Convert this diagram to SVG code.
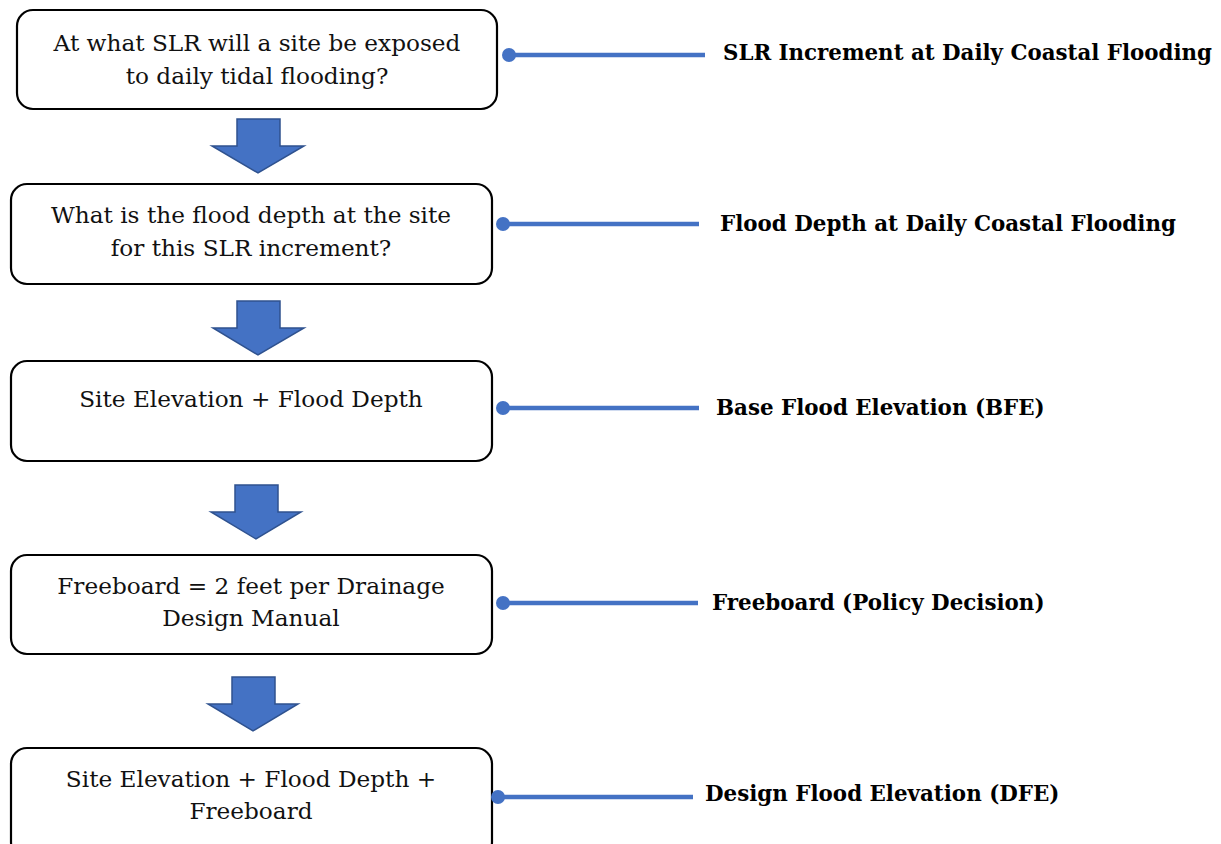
<svg xmlns="http://www.w3.org/2000/svg" width="1221" height="844" viewBox="0 0 1221 844">
<style>
.box{fill:#fff;stroke:#000;stroke-width:2.2}
.t{font-family:"DejaVu Serif","Liberation Serif",serif;font-size:23.2px;fill:#111;text-anchor:middle}
.l{font-family:"DejaVu Serif","Liberation Serif",serif;font-size:21.4px;font-weight:bold;fill:#000}
.arr{fill:#4472C4;stroke:#2F528F;stroke-width:1.5}
.con{stroke:#4472C4;stroke-width:4.5;fill:none}
.dot{fill:#4472C4}
</style>
<rect width="1221" height="844" fill="#fff"/>
<g id="node1">
<rect class="box" x="17" y="10" width="480" height="99" rx="16"/>
<text class="t" x="257" y="51">At what SLR will a site be exposed</text>
<text class="t" x="257" y="84">to daily tidal flooding?</text>
</g>
<g id="node2">
<rect class="box" x="11" y="184" width="481" height="100" rx="16"/>
<text class="t" x="251" y="223">What is the flood depth at the site</text>
<text class="t" x="251" y="256">for this SLR increment?</text>
</g>
<g id="node3">
<rect class="box" x="11" y="361" width="481" height="100" rx="16"/>
<text class="t" x="251" y="407">Site Elevation + Flood Depth</text>
</g>
<g id="node4">
<rect class="box" x="11" y="555" width="481" height="99" rx="16"/>
<text class="t" x="251" y="594">Freeboard = 2 feet per Drainage</text>
<text class="t" x="251" y="626">Design Manual</text>
</g>
<g id="node5">
<rect class="box" x="11" y="748" width="481" height="110" rx="16"/>
<text class="t" x="251" y="787">Site Elevation + Flood Depth +</text>
<text class="t" x="251" y="819">Freeboard</text>
</g>
<g id="label1"><text class="l" x="723" y="60" textLength="489" lengthAdjust="spacingAndGlyphs">SLR Increment at Daily Coastal Flooding</text></g>
<g id="label2"><text class="l" x="720" y="231">Flood Depth at Daily Coastal Flooding</text></g>
<g id="label3"><text class="l" x="716" y="415">Base Flood Elevation (BFE)</text></g>
<g id="label4"><text class="l" x="712" y="610">Freeboard (Policy Decision)</text></g>
<g id="label5"><text class="l" x="705" y="801">Design Flood Elevation (DFE)</text></g>
<g id="connectors">
<polygon class="arr" points="237,119 280,119 280,146 304,146 258,173 212,146 237,146"/>
<polygon class="arr" points="237,301 280,301 280,328 304,328 258,355 213,328 237,328"/>
<polygon class="arr" points="235,485 278,485 278,512 301,512 256,539 211,512 235,512"/>
<polygon class="arr" points="232,677 275,677 275,704 298,704 253,731 208,704 232,704"/>
<line class="con" x1="509" y1="55" x2="705" y2="55"/><circle class="dot" cx="509" cy="55" r="7"/>
<line class="con" x1="503" y1="224" x2="699" y2="224"/><circle class="dot" cx="503" cy="224" r="7"/>
<line class="con" x1="503" y1="408" x2="699" y2="408"/><circle class="dot" cx="503" cy="408" r="7"/>
<line class="con" x1="503" y1="603" x2="698" y2="603"/><circle class="dot" cx="503" cy="603" r="7"/>
<line class="con" x1="498" y1="797" x2="693" y2="797"/><circle class="dot" cx="498" cy="797" r="7"/>
</g>
</svg>
